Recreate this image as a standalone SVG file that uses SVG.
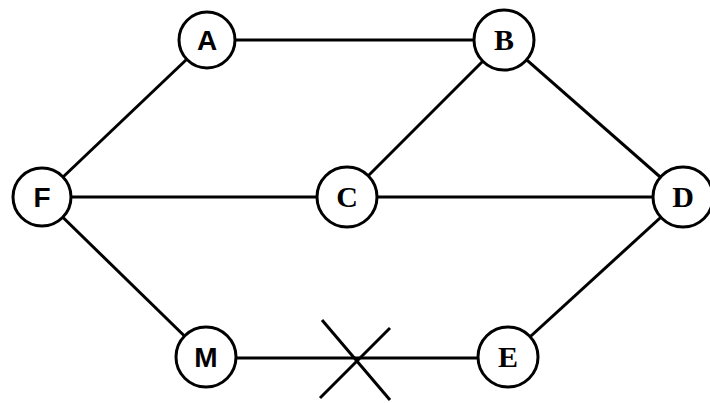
<svg xmlns="http://www.w3.org/2000/svg" width="710" height="403" viewBox="0 0 710 403">
<style>
.n{fill:#fff;stroke:#000;stroke-width:3}
.e{stroke:#000;stroke-width:3;fill:none}
.s{font-family:"Liberation Sans",Arial,sans-serif;font-weight:bold;font-size:28px;text-anchor:middle}
.r{font-family:"Liberation Serif","Times New Roman",serif;font-weight:bold;font-size:30px;text-anchor:middle}
</style>
<rect width="710" height="403" fill="#fff"/>
<g id="connectors">
<line class="e" x1="207" y1="40" x2="504" y2="40"/>
<line class="e" x1="42" y1="197" x2="207" y2="40"/>
<line class="e" x1="42" y1="197" x2="683" y2="197"/>
<line class="e" x1="347" y1="197" x2="504" y2="40"/>
<line class="e" x1="504" y1="40" x2="683" y2="197"/>
<line class="e" x1="42" y1="197" x2="206" y2="357"/>
<line class="e" x1="206" y1="358" x2="508" y2="358"/>
<line class="e" x1="508" y1="357" x2="683" y2="197"/>
<line class="e" x1="322" y1="320" x2="390" y2="400"/>
<line class="e" x1="390" y1="328" x2="320" y2="398"/>
</g>
<g id="A"><circle class="n" cx="207" cy="40" r="28"/><text class="s" x="207" y="50">A</text></g>
<g id="B"><circle class="n" cx="504" cy="40" r="30"/><text class="r" x="504" y="50">B</text></g>
<g id="F"><circle class="n" cx="42" cy="197" r="29"/><text class="s" x="42" y="207">F</text></g>
<g id="C"><circle class="n" cx="347" cy="197" r="30"/><text class="r" x="347" y="207">C</text></g>
<g id="D"><circle class="n" cx="683" cy="197" r="30"/><text class="r" x="683" y="207">D</text></g>
<g id="M"><circle class="n" cx="206" cy="357" r="30"/><text class="s" x="206" y="367">M</text></g>
<g id="E"><circle class="n" cx="508" cy="357" r="30"/><text class="r" x="508" y="367">E</text></g>
</svg>
